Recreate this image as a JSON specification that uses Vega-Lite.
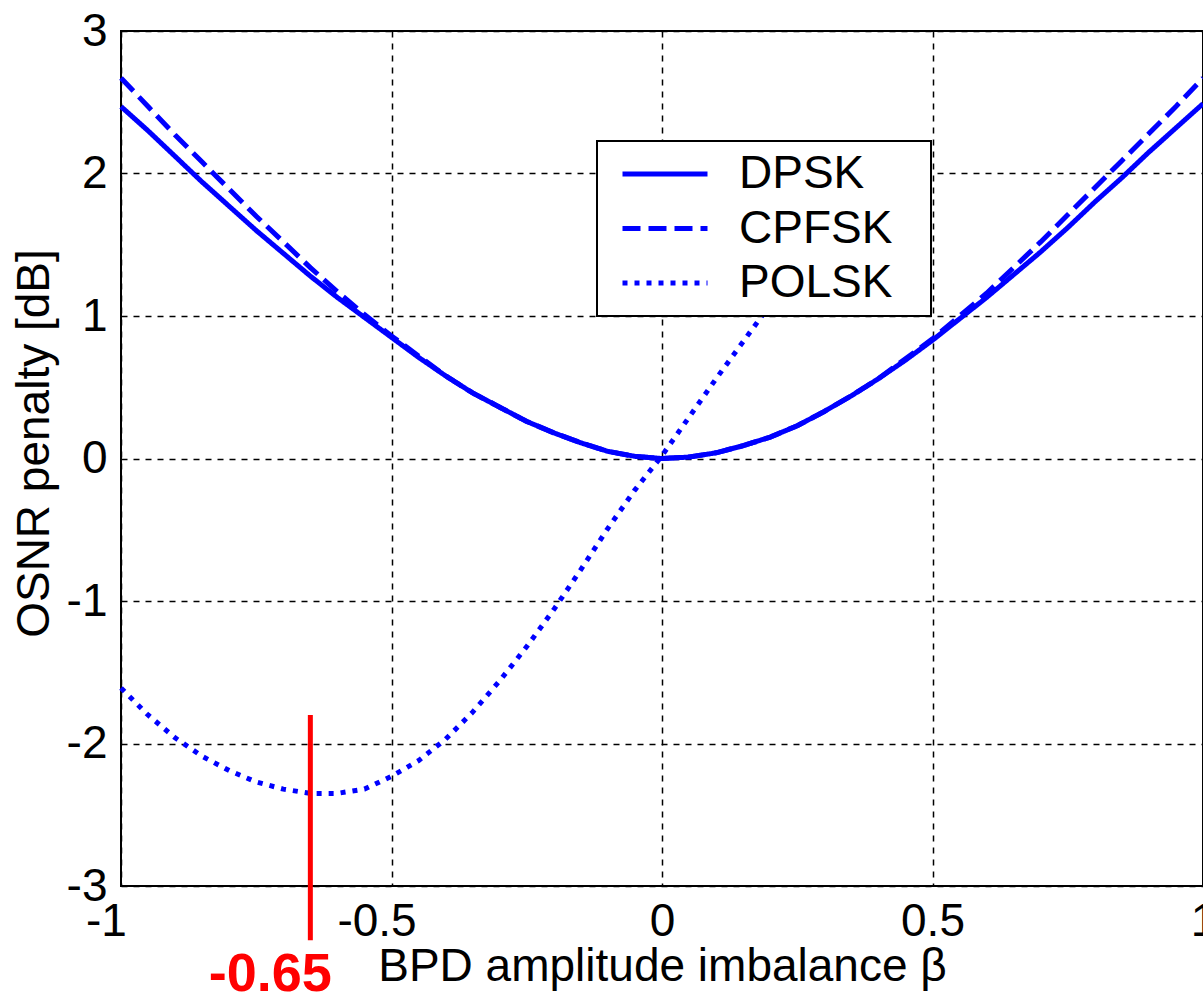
{
  "$schema": "https://vega.github.io/schema/vega-lite/v6.json",
  "width": 1082,
  "height": 855,
  "autosize": {"type": "none"},
  "padding": {"left": 121, "top": 31, "right": 0, "bottom": 108},
  "background": "white",
  "config": {
    "font": "Liberation Sans",
    "view": {"stroke": "black", "strokeWidth": 2},
    "axis": {
      "domain": false,
      "ticks": false,
      "tickSize": 0,
      "grid": true,
      "gridColor": "#000000",
      "gridDash": [6, 6],
      "gridWidth": 1.5,
      "gridOpacity": 1,
      "labelFont": "Liberation Sans",
      "labelFontSize": 46,
      "labelColor": "black",
      "labelFlush": false,
      "labelOverlap": false,
      "titleFont": "Liberation Sans",
      "titleFontSize": 46,
      "titleFontWeight": "normal",
      "titleColor": "black"
    },
    "legend": {"strokeWidth": 2}
  },
  "datasets": {
    "curves": [
      {"beta": -1.00, "penalty": 2.47, "format": "DPSK"},
      {"beta": -0.95, "penalty": 2.30, "format": "DPSK"},
      {"beta": -0.90, "penalty": 2.12, "format": "DPSK"},
      {"beta": -0.85, "penalty": 1.94, "format": "DPSK"},
      {"beta": -0.80, "penalty": 1.77, "format": "DPSK"},
      {"beta": -0.75, "penalty": 1.60, "format": "DPSK"},
      {"beta": -0.70, "penalty": 1.44, "format": "DPSK"},
      {"beta": -0.65, "penalty": 1.28, "format": "DPSK"},
      {"beta": -0.60, "penalty": 1.13, "format": "DPSK"},
      {"beta": -0.55, "penalty": 0.99, "format": "DPSK"},
      {"beta": -0.50, "penalty": 0.85, "format": "DPSK"},
      {"beta": -0.45, "penalty": 0.71, "format": "DPSK"},
      {"beta": -0.40, "penalty": 0.58, "format": "DPSK"},
      {"beta": -0.35, "penalty": 0.46, "format": "DPSK"},
      {"beta": -0.30, "penalty": 0.36, "format": "DPSK"},
      {"beta": -0.25, "penalty": 0.26, "format": "DPSK"},
      {"beta": -0.20, "penalty": 0.18, "format": "DPSK"},
      {"beta": -0.15, "penalty": 0.11, "format": "DPSK"},
      {"beta": -0.10, "penalty": 0.05, "format": "DPSK"},
      {"beta": -0.05, "penalty": 0.015, "format": "DPSK"},
      {"beta": 0.00, "penalty": 0.00, "format": "DPSK"},
      {"beta": 0.05, "penalty": 0.01, "format": "DPSK"},
      {"beta": 0.10, "penalty": 0.04, "format": "DPSK"},
      {"beta": 0.15, "penalty": 0.09, "format": "DPSK"},
      {"beta": 0.20, "penalty": 0.15, "format": "DPSK"},
      {"beta": 0.25, "penalty": 0.23, "format": "DPSK"},
      {"beta": 0.30, "penalty": 0.33, "format": "DPSK"},
      {"beta": 0.35, "penalty": 0.44, "format": "DPSK"},
      {"beta": 0.40, "penalty": 0.56, "format": "DPSK"},
      {"beta": 0.45, "penalty": 0.69, "format": "DPSK"},
      {"beta": 0.50, "penalty": 0.83, "format": "DPSK"},
      {"beta": 0.55, "penalty": 0.98, "format": "DPSK"},
      {"beta": 0.60, "penalty": 1.13, "format": "DPSK"},
      {"beta": 0.65, "penalty": 1.29, "format": "DPSK"},
      {"beta": 0.70, "penalty": 1.45, "format": "DPSK"},
      {"beta": 0.75, "penalty": 1.62, "format": "DPSK"},
      {"beta": 0.80, "penalty": 1.80, "format": "DPSK"},
      {"beta": 0.85, "penalty": 1.97, "format": "DPSK"},
      {"beta": 0.90, "penalty": 2.15, "format": "DPSK"},
      {"beta": 0.95, "penalty": 2.32, "format": "DPSK"},
      {"beta": 1.00, "penalty": 2.49, "format": "DPSK"},
      {"beta": -1.00, "penalty": 2.67, "format": "CPFSK"},
      {"beta": -0.95, "penalty": 2.47, "format": "CPFSK"},
      {"beta": -0.90, "penalty": 2.27, "format": "CPFSK"},
      {"beta": -0.85, "penalty": 2.08, "format": "CPFSK"},
      {"beta": -0.80, "penalty": 1.89, "format": "CPFSK"},
      {"beta": -0.75, "penalty": 1.70, "format": "CPFSK"},
      {"beta": -0.70, "penalty": 1.52, "format": "CPFSK"},
      {"beta": -0.65, "penalty": 1.34, "format": "CPFSK"},
      {"beta": -0.60, "penalty": 1.17, "format": "CPFSK"},
      {"beta": -0.55, "penalty": 1.01, "format": "CPFSK"},
      {"beta": -0.50, "penalty": 0.86, "format": "CPFSK"},
      {"beta": -0.45, "penalty": 0.72, "format": "CPFSK"},
      {"beta": -0.40, "penalty": 0.58, "format": "CPFSK"},
      {"beta": -0.35, "penalty": 0.46, "format": "CPFSK"},
      {"beta": -0.30, "penalty": 0.36, "format": "CPFSK"},
      {"beta": -0.25, "penalty": 0.26, "format": "CPFSK"},
      {"beta": -0.20, "penalty": 0.18, "format": "CPFSK"},
      {"beta": -0.15, "penalty": 0.11, "format": "CPFSK"},
      {"beta": -0.10, "penalty": 0.05, "format": "CPFSK"},
      {"beta": -0.05, "penalty": 0.015, "format": "CPFSK"},
      {"beta": 0.00, "penalty": 0.00, "format": "CPFSK"},
      {"beta": 0.05, "penalty": 0.01, "format": "CPFSK"},
      {"beta": 0.10, "penalty": 0.04, "format": "CPFSK"},
      {"beta": 0.15, "penalty": 0.09, "format": "CPFSK"},
      {"beta": 0.20, "penalty": 0.15, "format": "CPFSK"},
      {"beta": 0.25, "penalty": 0.23, "format": "CPFSK"},
      {"beta": 0.30, "penalty": 0.33, "format": "CPFSK"},
      {"beta": 0.35, "penalty": 0.44, "format": "CPFSK"},
      {"beta": 0.40, "penalty": 0.56, "format": "CPFSK"},
      {"beta": 0.45, "penalty": 0.70, "format": "CPFSK"},
      {"beta": 0.50, "penalty": 0.84, "format": "CPFSK"},
      {"beta": 0.55, "penalty": 1.00, "format": "CPFSK"},
      {"beta": 0.60, "penalty": 1.16, "format": "CPFSK"},
      {"beta": 0.65, "penalty": 1.34, "format": "CPFSK"},
      {"beta": 0.70, "penalty": 1.52, "format": "CPFSK"},
      {"beta": 0.75, "penalty": 1.71, "format": "CPFSK"},
      {"beta": 0.80, "penalty": 1.90, "format": "CPFSK"},
      {"beta": 0.85, "penalty": 2.09, "format": "CPFSK"},
      {"beta": 0.90, "penalty": 2.28, "format": "CPFSK"},
      {"beta": 0.95, "penalty": 2.47, "format": "CPFSK"},
      {"beta": 1.00, "penalty": 2.67, "format": "CPFSK"},
      {"beta": -1.00, "penalty": -1.61, "format": "POLSK"},
      {"beta": -0.95, "penalty": -1.80, "format": "POLSK"},
      {"beta": -0.90, "penalty": -1.96, "format": "POLSK"},
      {"beta": -0.85, "penalty": -2.09, "format": "POLSK"},
      {"beta": -0.80, "penalty": -2.19, "format": "POLSK"},
      {"beta": -0.75, "penalty": -2.27, "format": "POLSK"},
      {"beta": -0.70, "penalty": -2.32, "format": "POLSK"},
      {"beta": -0.65, "penalty": -2.35, "format": "POLSK"},
      {"beta": -0.60, "penalty": -2.35, "format": "POLSK"},
      {"beta": -0.55, "penalty": -2.32, "format": "POLSK"},
      {"beta": -0.50, "penalty": -2.23, "format": "POLSK"},
      {"beta": -0.45, "penalty": -2.12, "format": "POLSK"},
      {"beta": -0.40, "penalty": -1.97, "format": "POLSK"},
      {"beta": -0.35, "penalty": -1.78, "format": "POLSK"},
      {"beta": -0.30, "penalty": -1.56, "format": "POLSK"},
      {"beta": -0.25, "penalty": -1.32, "format": "POLSK"},
      {"beta": -0.20, "penalty": -1.06, "format": "POLSK"},
      {"beta": -0.15, "penalty": -0.78, "format": "POLSK"},
      {"beta": -0.10, "penalty": -0.49, "format": "POLSK"},
      {"beta": -0.05, "penalty": -0.22, "format": "POLSK"},
      {"beta": 0.00, "penalty": 0.02, "format": "POLSK"},
      {"beta": 0.05, "penalty": 0.29, "format": "POLSK"},
      {"beta": 0.10, "penalty": 0.56, "format": "POLSK"},
      {"beta": 0.15, "penalty": 0.82, "format": "POLSK"},
      {"beta": 0.20, "penalty": 1.08, "format": "POLSK"}
    ],
    "marker": [
      {"beta": -0.65, "penalty": -1.8, "penalty_end": -3.38}
    ],
    "marker_label": [
      {"beta": -0.65, "penalty": -3.74, "label": "-0.65"}
    ]
  },
  "layer": [
    {
      "data": {"name": "curves"},
      "mark": {"type": "line", "color": "#0000FF", "strokeWidth": 5, "strokeCap": "butt"},
      "encoding": {
        "x": {
          "field": "beta",
          "type": "quantitative",
          "scale": {"domain": [-1, 1], "nice": false, "zero": false},
          "axis": {
            "values": [-1, -0.5, 0, 0.5, 1],
            "labelPadding": 13,
            "labelExpr": "'' + datum.value",
            "labelOffset": {"condition": {"test": "datum.value < 0", "value": -15}, "value": 0},
            "title": "BPD amplitude imbalance β",
            "titleBaseline": "alphabetic",
            "titleY": 94
          }
        },
        "y": {
          "field": "penalty",
          "type": "quantitative",
          "scale": {"domain": [-3, 3], "nice": false, "zero": false},
          "axis": {
            "values": [-3, -2, -1, 0, 1, 2, 3],
            "labelPadding": 14,
            "labelExpr": "'' + datum.value",
            "title": "OSNR penalty [dB]",
            "titleBaseline": "alphabetic",
            "titleX": -73,
            "titleY": 412
          }
        },
        "strokeDash": {
          "field": "format",
          "type": "nominal",
          "scale": {"domain": ["DPSK", "CPFSK", "POLSK"], "range": [[1, 0], [18, 8], [5, 7]]},
          "legend": {
            "orient": "none",
            "legendX": 476,
            "legendY": 110,
            "title": null,
            "fillColor": "white",
            "strokeColor": "black",
            "padding": 10,
            "symbolType": "M-2.5,0H2.5M14.45,0",
            "symbolSize": 1156,
            "symbolStrokeWidth": 5,
            "symbolStrokeColor": "#0000FF",
            "symbolOffset": 35,
            "labelOffset": 51,
            "labelFont": "Liberation Sans",
            "labelFontSize": 46,
            "labelColor": "black",
            "labelLimit": 400,
            "rowPadding": 8.5
          }
        }
      }
    },
    {
      "data": {"name": "marker"},
      "mark": {"type": "rule", "color": "#FF0000", "strokeWidth": 5, "clip": false},
      "encoding": {
        "x": {"field": "beta", "type": "quantitative", "scale": {"domain": [-1, 1], "nice": false, "zero": false}},
        "y": {"field": "penalty", "type": "quantitative", "scale": {"domain": [-3, 3], "nice": false, "zero": false}},
        "y2": {"field": "penalty_end"}
      }
    },
    {
      "data": {"name": "marker_label"},
      "mark": {"type": "text", "color": "#FF0000", "font": "Liberation Sans", "fontWeight": "bold", "fontSize": 54, "align": "center", "baseline": "alphabetic", "dx": -40, "clip": false},
      "encoding": {
        "x": {"field": "beta", "type": "quantitative", "scale": {"domain": [-1, 1], "nice": false, "zero": false}},
        "y": {"field": "penalty", "type": "quantitative", "scale": {"domain": [-3, 3], "nice": false, "zero": false}},
        "text": {"field": "label", "type": "nominal"}
      }
    }
  ]
}
